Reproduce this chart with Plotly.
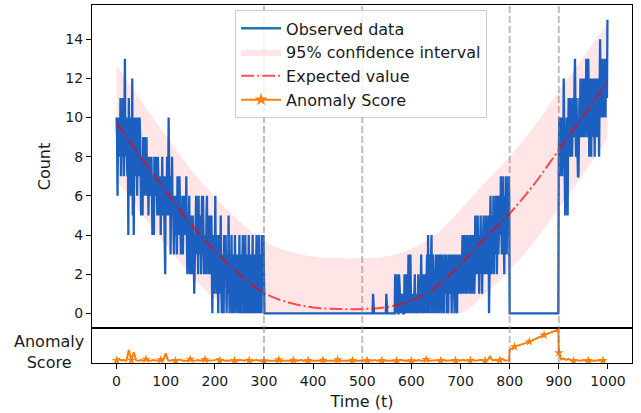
import plotly.graph_objects as go

# ---------------- data ----------------
# observed counts, one value per time step t = 0..999
obs_0_299 = [
    10, 9, 6, 10, 8, 10, 9, 8, 11, 7, 9, 10, 8, 11, 9, 7, 10, 13, 8, 9,
    10, 8, 7, 9, 4, 11, 8, 10, 6, 9, 7, 8, 12, 5, 9, 4, 8, 10, 7, 9,
    10, 8, 6, 9, 10, 7, 8, 10, 9, 6, 5, 8, 7, 5, 9, 8, 9, 6, 8, 9,
    7, 9, 6, 8, 7, 5, 8, 7, 6, 8, 7, 8, 6, 4, 7, 5, 4, 8, 6, 7,
    8, 6, 7, 5, 8, 6, 7, 5, 6, 7, 4, 7, 6, 8, 5, 6, 7, 5, 6, 2,
    7, 5, 6, 8, 5, 6, 10, 6, 5, 7, 3, 6, 5, 8, 5, 6, 4, 3, 6, 5,
    4, 6, 5, 3, 7, 5, 6, 4, 7, 5, 6, 3, 5, 4, 6, 3, 5, 4, 6, 5,
    4, 5, 7, 4, 2, 5, 3, 4, 6, 2, 4, 5, 3, 2, 4, 5, 3, 4, 1, 3,
    5, 4, 6, 3, 5, 4, 2, 6, 3, 4, 3, 5, 2, 4, 6, 3, 6, 4, 2, 3,
    4, 3, 2, 5, 6, 3, 4, 2, 3, 5, 2, 4, 3, 5, 2, 0, 3, 4, 2, 1,
    3, 6, 2, 4, 1, 3, 2, 0, 4, 2, 3, 1, 5, 2, 0, 3, 2, 1, 0, 4,
    2, 3, 4, 1, 0, 2, 3, 1, 5, 2, 0, 3, 1, 2, 4, 0, 1, 2, 3, 0,
    2, 4, 1, 3, 0, 2, 1, 3, 2, 0, 4, 1, 2, 0, 3, 1, 2, 4, 0, 1,
    2, 0, 4, 1, 3, 0, 2, 1, 0, 4, 2, 1, 0, 3, 1, 0, 2, 4, 1, 0,
    1, 3, 0, 2, 1, 4, 0, 1, 2, 0, 4, 1, 0, 3, 1, 0, 4, 2, 1, 4,
]
obs_300_519 = [
    0, 0, 0, 0, 0, 0, 0, 0, 0, 0, 0, 0, 0, 0, 0, 0, 0, 0, 0, 0,
    0, 0, 0, 0, 0, 0, 0, 0, 0, 0, 0, 0, 0, 0, 0, 0, 0, 0, 0, 0,
    0, 0, 0, 0, 0, 0, 0, 0, 0, 0, 0, 0, 0, 0, 0, 0, 0, 0, 0, 0,
    0, 0, 0, 0, 0, 0, 0, 0, 0, 0, 0, 0, 0, 0, 0, 0, 0, 0, 0, 0,
    0, 0, 0, 0, 0, 0, 0, 0, 0, 0, 0, 0, 0, 0, 0, 0, 0, 0, 0, 0,
    0, 0, 0, 0, 0, 0, 0, 0, 0, 0, 0, 0, 0, 0, 0, 0, 0, 0, 0, 0,
    0, 0, 0, 0, 0, 0, 0, 0, 0, 0, 0, 0, 0, 0, 0, 0, 0, 0, 0, 0,
    0, 0, 0, 0, 0, 0, 0, 0, 0, 0, 0, 0, 0, 0, 0, 0, 0, 0, 0, 0,
    0, 0, 0, 0, 0, 0, 0, 0, 0, 0, 0, 0, 0, 0, 0, 0, 0, 0, 0, 0,
    0, 0, 0, 0, 0, 0, 0, 0, 0, 0, 0, 0, 0, 0, 0, 0, 0, 0, 0, 0,
    0, 0, 0, 0, 0, 0, 0, 0, 0, 0, 0, 0, 0, 0, 0, 0, 0, 0, 0, 0,
]
obs_520_799 = [
    0, 0, 1, 0, 0, 0, 0, 0, 0, 0, 0, 0, 0, 0, 0, 0, 0, 0, 0, 0,
    0, 0, 0, 0, 0, 0, 0, 0, 0, 1, 0, 0, 0, 0, 0, 0, 0, 0, 0, 0,
    0, 0, 0, 0, 0, 0, 0, 2, 0, 1, 2, 0, 1, 0, 0, 2, 1, 0, 0, 1,
    0, 1, 0, 0, 0, 0, 2, 0, 1, 0, 2, 0, 1, 0, 3, 0, 1, 0, 3, 1,
    0, 1, 0, 1, 0, 0, 1, 2, 0, 1, 0, 1, 1, 0, 2, 1, 0, 1, 0, 1,
    3, 0, 1, 2, 0, 1, 0, 2, 1, 0, 2, 1, 3, 0, 4, 1, 2, 0, 3, 1,
    2, 4, 0, 1, 3, 2, 1, 0, 2, 1, 3, 0, 2, 1, 3, 2, 0, 1, 3, 1,
    2, 0, 3, 1, 2, 1, 0, 3, 2, 1, 2, 3, 0, 1, 2, 0, 3, 1, 2, 3,
    1, 2, 0, 3, 1, 2, 3, 1, 0, 2, 3, 1, 2, 0, 3, 2, 1, 3, 1, 2,
    2, 3, 1, 2, 4, 1, 2, 3, 4, 2, 1, 3, 2, 4, 1, 3, 2, 2, 4, 1,
    3, 2, 4, 1, 3, 2, 4, 3, 1, 2, 5, 3, 2, 4, 3, 5, 2, 3, 1, 4,
    3, 5, 2, 4, 1, 3, 4, 5, 2, 3, 4, 2, 5, 3, 4, 2, 3, 5, 0, 4,
    3, 6, 4, 2, 5, 4, 3, 6, 2, 5, 4, 3, 6, 5, 2, 4, 6, 3, 5, 4,
    6, 4, 7, 5, 3, 6, 4, 7, 5, 2, 6, 5, 4, 7, 3, 6, 5, 4, 7, 6,
]
obs_800_899 = [
    0, 0, 0, 0, 0, 0, 0, 0, 0, 0, 0, 0, 0, 0, 0, 0, 0, 0, 0, 0,
    0, 0, 0, 0, 0, 0, 0, 0, 0, 0, 0, 0, 0, 0, 0, 0, 0, 0, 0, 0,
    0, 0, 0, 0, 0, 0, 0, 0, 0, 0, 0, 0, 0, 0, 0, 0, 0, 0, 0, 0,
    0, 0, 0, 0, 0, 0, 0, 0, 0, 0, 0, 0, 0, 0, 0, 0, 0, 0, 0, 0,
    0, 0, 0, 0, 0, 0, 0, 0, 0, 0, 0, 0, 0, 0, 0, 0, 0, 0, 0, 0,
]
obs_900_999 = [
    8, 10, 7, 9, 8, 10, 9, 7, 10, 8, 12, 9, 6, 5, 9, 7, 10, 8, 5, 9,
    11, 9, 10, 8, 11, 9, 10, 8, 9, 11, 10, 9, 12, 13, 10, 8, 11, 9, 10, 7,
    7, 10, 11, 9, 12, 10, 9, 11, 10, 12, 9, 11, 10, 12, 9, 11, 13, 10, 12, 9,
    13, 11, 8, 12, 10, 11, 8, 12, 11, 10, 12, 9, 11, 8, 12, 10, 11, 9, 12, 11,
    10, 12, 8, 11, 14, 12, 10, 11, 13, 12, 10, 12, 11, 13, 12, 10, 13, 12, 11, 15,
]

# expected value and 95% band, read every 50 time steps
curve_t = [0, 50, 100, 150, 200, 250, 300, 350, 400, 450, 500,
           550, 600, 650, 700, 750, 800, 850, 900, 950, 999]
expected = [9.72, 7.95, 6.25, 4.6, 3.2, 2.0, 1.05, 0.55, 0.3, 0.22, 0.22,
            0.32, 0.65, 1.35, 2.5, 3.85, 5.1, 6.6, 8.35, 10.1, 11.85]
ci_upper = [12.67, 10.85, 9.1, 7.4, 5.95, 4.7, 3.7, 3.17, 2.9, 2.82, 2.82,
            2.92, 3.3, 4.05, 5.3, 6.7, 8.0, 9.55, 11.35, 13.1, 14.8]
ci_lower = [6.8, 5.1, 3.5, 2.0, 0.75, 0.0, 0.0, 0.0, 0.0, 0.0, 0.0,
            0.0, 0.0, 0.0, 0.0, 1.0, 2.2, 3.65, 5.35, 7.1, 8.9]

# anomaly score, read every 5 time steps (plus t=799 and t=899)
anom_0_795 = [
    0.03, 0.08, 0.03, 0.04, 0.02, 0.36, 0.04, 0.29, 0.03, 0.02, 0.04, 0.02, 0.07, 0.03, 0.02, 0.04, 0.03, 0.02, 0.05, 0.03,
    0.25, 0.03, 0.02, 0.04, 0.02, 0.03, 0.06, 0.02, 0.03, 0.02, 0.07, 0.03, 0.02, 0.04, 0.02, 0.03, 0.06, 0.02, 0.03, 0.02,
    0.04, 0.07, 0.03, 0.06, 0.02, 0.03, 0.02, 0.04, 0.03, 0.02, 0.05, 0.03, 0.02, 0.06, 0.03, 0.02, 0.03, 0.05, 0.02, 0.03,
    0.02, 0.03, 0.02, 0.02, 0.03, 0.02, 0.05, 0.02, 0.02, 0.03, 0.02, 0.02, 0.04, 0.02, 0.02, 0.05, 0.02, 0.02, 0.03, 0.02,
    0.02, 0.03, 0.02, 0.02, 0.04, 0.02, 0.02, 0.03, 0.02, 0.02, 0.05, 0.02, 0.02, 0.03, 0.02, 0.02, 0.03, 0.02, 0.02, 0.03,
    0.02, 0.02, 0.03, 0.02, 0.02, 0.04, 0.02, 0.02, 0.03, 0.02, 0.02, 0.03, 0.02, 0.04, 0.02, 0.02, 0.05, 0.02, 0.03, 0.02,
    0.02, 0.03, 0.02, 0.04, 0.02, 0.03, 0.06, 0.02, 0.03, 0.02, 0.04, 0.02, 0.03, 0.05, 0.02, 0.03, 0.02, 0.04, 0.03, 0.02,
    0.03, 0.05, 0.02, 0.04, 0.03, 0.06, 0.02, 0.03, 0.05, 0.03, 0.02, 0.04, 0.15, 0.03, 0.05, 0.02, 0.04, 0.08, 0.03, 0.04,
]
anom_799 = [0.03]
anom_800_895 = [0.36, 0.42, 0.46, 0.49, 0.51, 0.54, 0.57, 0.59, 0.62, 0.65,
                0.68, 0.72, 0.75, 0.79, 0.83, 0.86, 0.89, 0.92, 0.95, 0.98]
anom_899 = [1.0]
anom_900_995 = [0.27, 0.06, 0.09, 0.05, 0.08, 0.03, 0.02, 0.04, 0.03, 0.02,
                0.04, 0.02, 0.03, 0.02, 0.03, 0.02, 0.04, 0.02, 0.03, 0.02]

change_points = [300, 500, 800, 900]
x_ticks = [0, 100, 200, 300, 400, 500, 600, 700, 800, 900, 1000]
y_ticks = [0, 2, 4, 6, 8, 10, 12, 14]

# ---------------- assemble ----------------
obs = obs_0_299 + obs_300_519 + obs_520_799 + obs_800_899 + obs_900_999
t_obs = list(range(len(obs)))

anom_t = (list(range(0, 800, 5)) + [799] + list(range(800, 900, 5)) + [899]
          + list(range(900, 1000, 5)))
anom = anom_0_795 + anom_799 + anom_800_895 + anom_899 + anom_900_995
mk_t = [t for t in anom_t if t % 30 == 0]
mk_v = [v for t, v in zip(anom_t, anom) if t % 30 == 0]

FONT = "DejaVu Sans"
BLUE = "rgb(27,95,193)"
ORANGE = "#ff7f0e"

fig = go.Figure()

fig.add_trace(go.Scatter(x=curve_t, y=ci_lower, mode="lines", line=dict(width=0, shape="spline"),
                         showlegend=False, hoverinfo="skip", xaxis="x", yaxis="y"))
fig.add_trace(go.Scatter(x=curve_t, y=ci_upper, mode="lines", line=dict(width=0, shape="spline"),
                         fill="tonexty", fillcolor="rgba(255,0,0,0.1)",
                         name="95% confidence interval", legendrank=2, xaxis="x", yaxis="y"))
fig.add_trace(go.Scatter(x=t_obs, y=obs, mode="lines", line=dict(color=BLUE, width=2.3),
                         showlegend=False, xaxis="x", yaxis="y"))
fig.add_trace(go.Scatter(x=[None], y=[None], mode="lines", line=dict(color="#1f77b4", width=2.5),
                         name="Observed data", legendrank=1, xaxis="x", yaxis="y"))
fig.add_trace(go.Scatter(x=curve_t, y=expected, mode="lines",
                         line=dict(color="rgba(255,0,0,0.68)", width=2, dash="13px,3px,2px,3px", shape="spline"),
                         name="Expected value", legendrank=3, xaxis="x", yaxis="y"))

fig.add_trace(go.Scatter(x=anom_t, y=anom, mode="lines", line=dict(color=ORANGE, width=2),
                         showlegend=False, xaxis="x2", yaxis="y2"))
fig.add_trace(go.Scatter(x=mk_t, y=mk_v, mode="markers",
                         marker=dict(symbol="star", size=7, color=ORANGE),
                         showlegend=False, xaxis="x2", yaxis="y2"))
fig.add_trace(go.Scatter(x=[None], y=[None], mode="lines+markers",
                         line=dict(color=ORANGE, width=2),
                         marker=dict(symbol="star", size=10, color=ORANGE),
                         name="Anomaly Score", legendrank=4, xaxis="x2", yaxis="y2"))

split = 35 / 358
axis_common = dict(showline=True, mirror=True, linecolor="black", linewidth=1,
                   showgrid=False, zeroline=False)
xr = [-49.95, 1048.95]

shapes = []
for cp in change_points:
    shapes.append(dict(type="line", xref="x", yref="paper", x0=cp, x1=cp, y0=0, y1=1,
                       line=dict(color="rgba(128,128,128,0.5)", width=2, dash="7px,3px"),
                       layer="above"))

fig.update_layout(
    width=641, height=413,
    margin=dict(l=92, r=9, t=5, b=50),
    paper_bgcolor="white", plot_bgcolor="white",
    font=dict(family=FONT, size=14, color="#1a1a1a"),
    xaxis=dict(domain=[0, 1], anchor="y", range=xr, showticklabels=False, ticks="", **axis_common),
    yaxis=dict(domain=[split, 1], anchor="x", range=[-0.75, 15.75], tickvals=y_ticks,
               ticks="outside", ticklen=5, tickwidth=1, tickcolor="black",
               tickfont=dict(size=14),
               title=dict(text="Count", standoff=10, font=dict(size=16)), **axis_common),
    xaxis2=dict(domain=[0, 1], anchor="y2", range=xr, tickvals=x_ticks,
                ticks="outside", ticklen=5, tickwidth=1, tickcolor="black",
                tickfont=dict(size=14),
                title=dict(text="Time (t)", standoff=8, font=dict(size=16)), **axis_common),
    yaxis2=dict(domain=[0, split], anchor="x2", range=[-0.05, 1.05], showticklabels=False,
                ticks="", **axis_common),
    legend=dict(x=0.265, y=0.985, xanchor="left", yanchor="top",
                bgcolor="rgba(255,255,255,0.8)", bordercolor="#cccccc", borderwidth=1,
                font=dict(size=16), traceorder="normal", itemwidth=40),
    shapes=shapes,
    annotations=[dict(text="Anomaly<br>Score", xref="paper", yref="paper",
                      x=(49 - 92) / 540, y=(363 - 352) / 358, xanchor="center", yanchor="middle",
                      align="center", showarrow=False, font=dict(size=16))],
)

fig.write_html("out.html", config={"displayModeBar": False},
               post_script="document.body.style.margin='0px';document.body.style.padding='0px';")
